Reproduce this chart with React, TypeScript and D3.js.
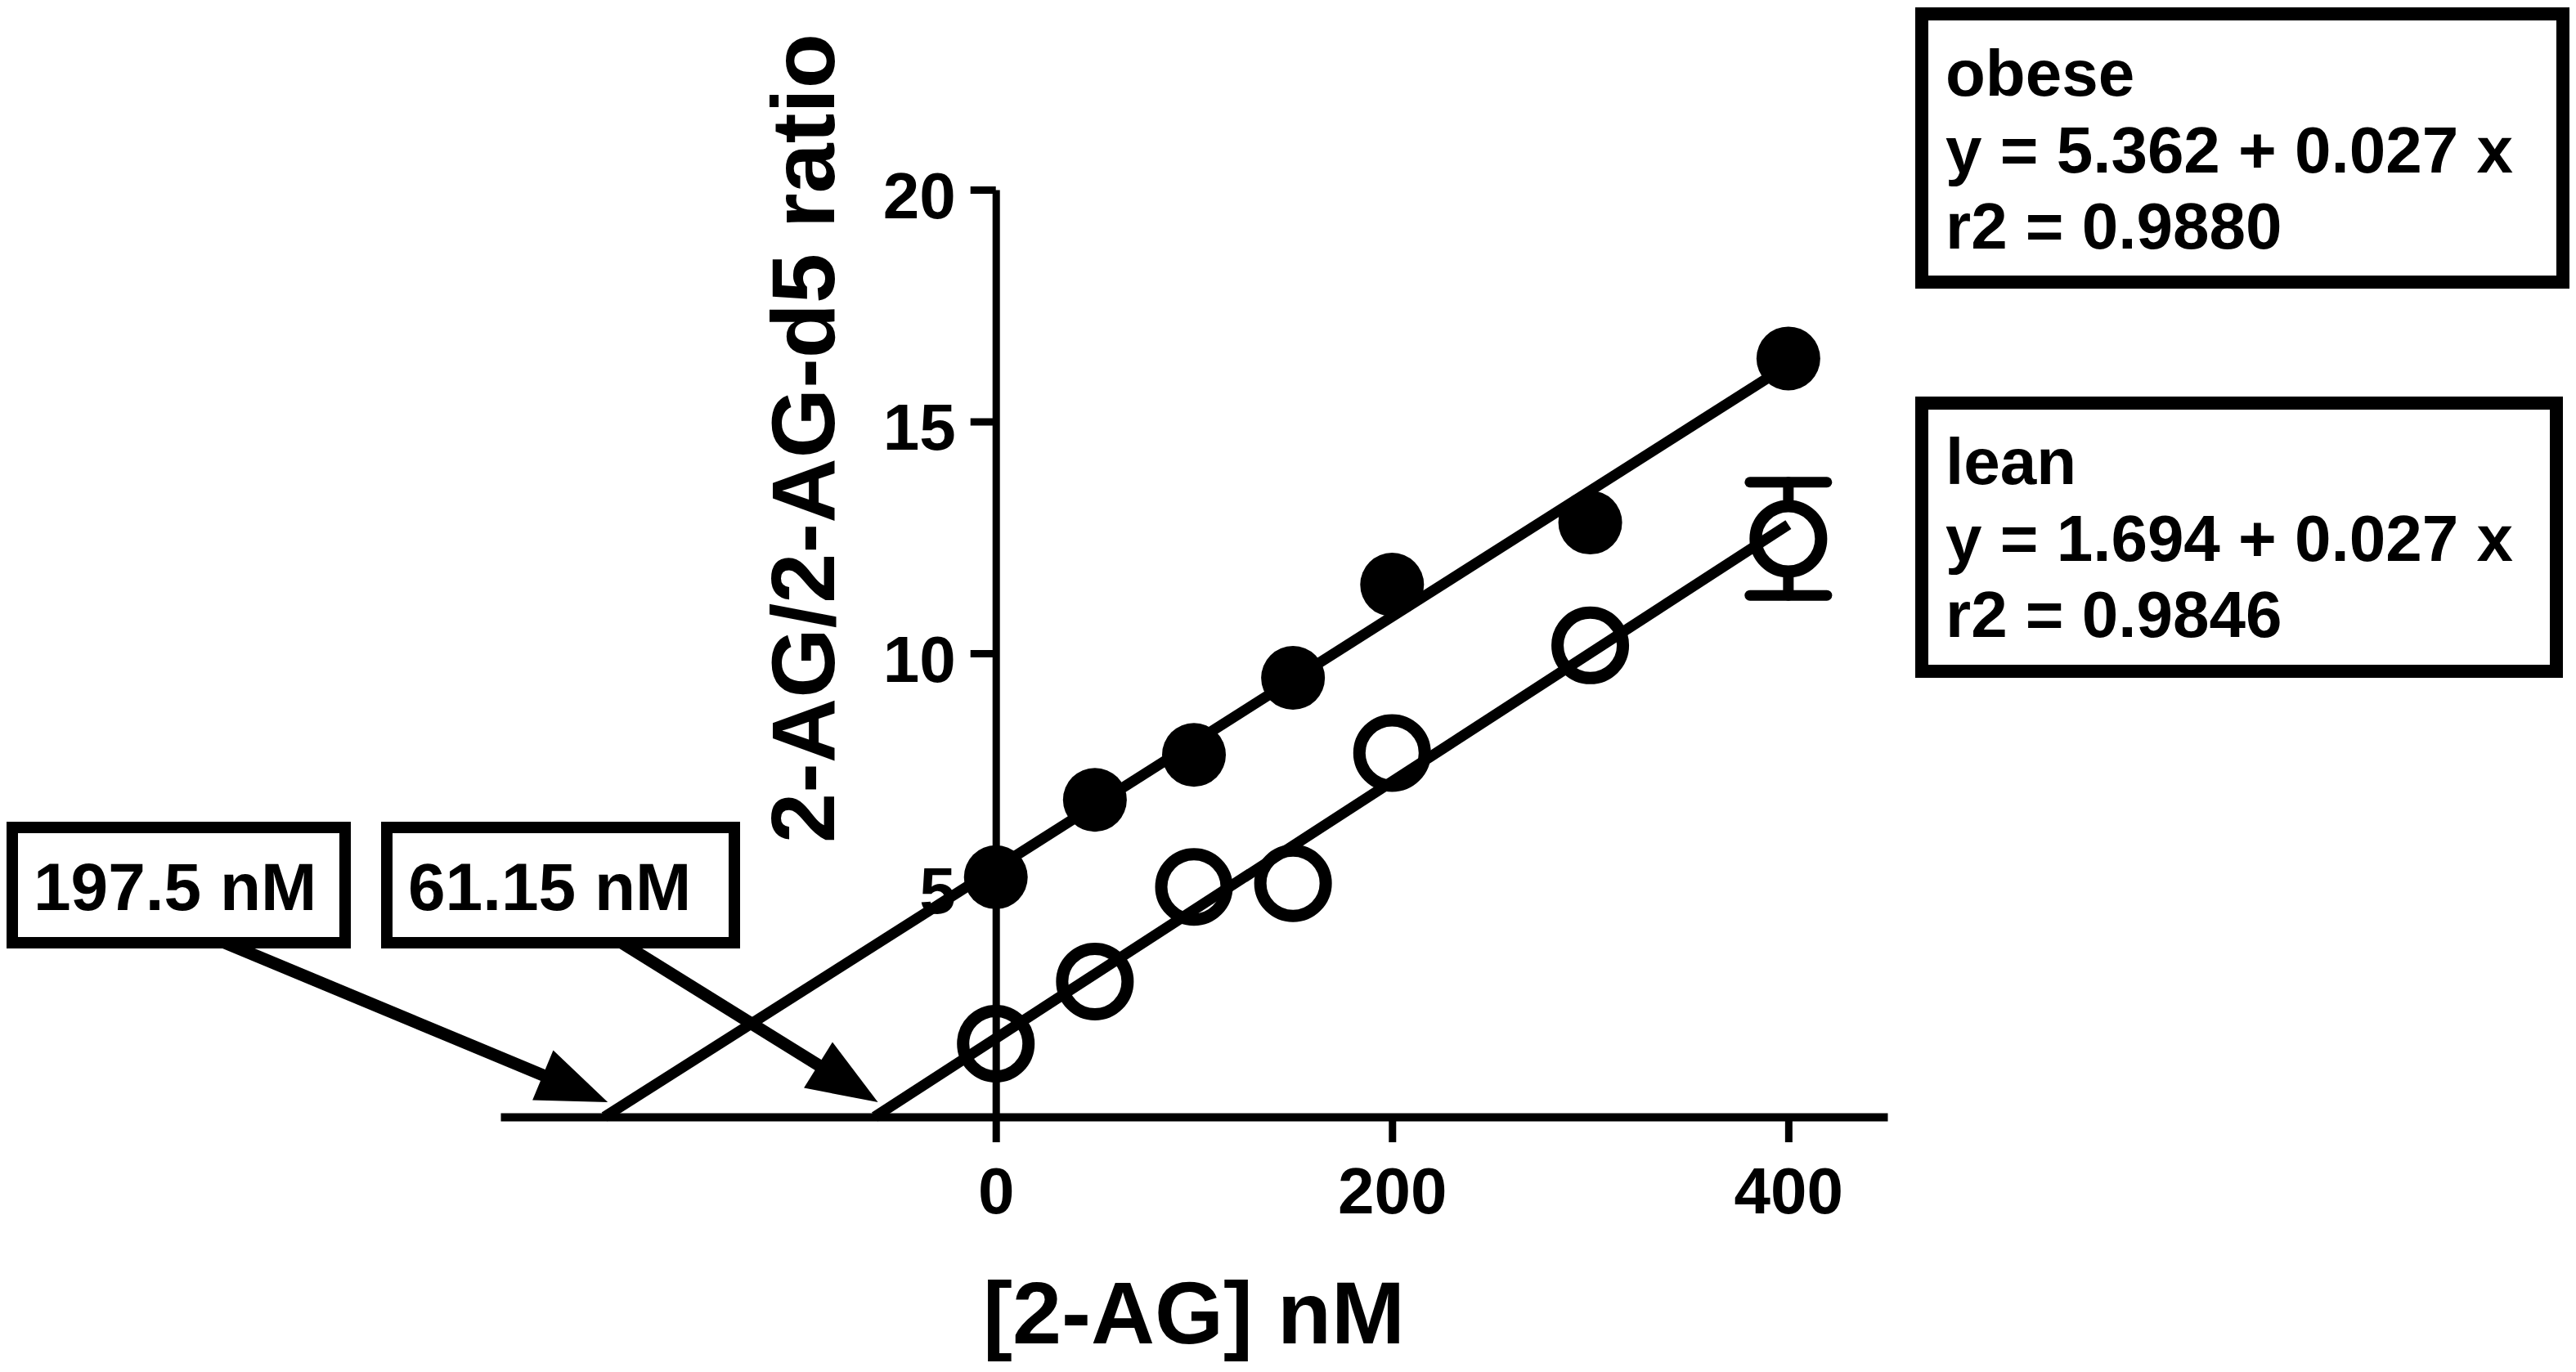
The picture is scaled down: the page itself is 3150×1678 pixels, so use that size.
import { useRef, useEffect } from "react";
import * as d3 from "d3";

// 2-AG standard addition, ratio vs spiked concentration
const doses = [0, 50, 100, 150, 200, 300, 400];
const obeseRatio = [5.17, 6.84, 7.81, 9.47, 11.48, 12.82, 16.36];
const leanRatio = [1.58, 2.92, 4.96, 5.04, 7.85, 10.17, 12.47];
const leanErr = [0, 0, 0, 0, 0, 0, 1.22];

const fitNames = ["obese", "lean"];
const fitIntercepts = [5.362, 1.694];
const fitSlopes = [0.027, 0.027];
const fitR2 = ["0.9880", "0.9846"];
const xIntercepts = [197.5, 61.15];

const xTicks = [0, 200, 400];
const yTicks = [5, 10, 15, 20];

const W = 3150;
const H = 1678;
const FONT = "'Liberation Sans', Arial, Helvetica, sans-serif";

export default function App() {
  const svgRef = useRef<SVGSVGElement>(null);

  useEffect(() => {
    if (!svgRef.current) return;
    const svg = d3.select(svgRef.current);
    svg.selectAll("*").remove();

    const x = d3.scaleLinear().domain([-250, 450]).range([612, 2308]);
    const y = d3.scaleLinear().domain([0, 20]).range([1366, 232]);

    // axis titles
    svg
      .append("text")
      .attr("transform", `translate(1020,536) rotate(-90)`)
      .attr("text-anchor", "middle")
      .style("font-family", FONT)
      .style("font-weight", "bold")
      .style("font-size", "110px")
      .text("2-AG/2-AG-d5 ratio");

    svg
      .append("text")
      .attr("x", (x(-250) + x(450)) / 2)
      .attr("y", 1643)
      .attr("text-anchor", "middle")
      .style("font-family", FONT)
      .style("font-weight", "bold")
      .style("font-size", "108px")
      .text("[2-AG] nM");

    // axes
    const xAxis = svg
      .append("g")
      .attr("transform", `translate(0,${y(0)})`)
      .call(
        d3.axisBottom(x).tickValues(xTicks).tickSize(31).tickSizeOuter(0).tickPadding(30)
      )
      .attr("font-family", FONT)
      .attr("font-weight", "bold")
      .attr("font-size", 80);
    xAxis.select(".domain").attr("stroke-width", 10).attr("stroke", "#000");
    xAxis.selectAll(".tick line").attr("stroke-width", 9).attr("stroke", "#000");
    xAxis.selectAll(".tick text").attr("fill", "#000");

    const yAxis = svg
      .append("g")
      .attr("transform", `translate(${x(0)},0)`)
      .call(
        d3.axisLeft(y).tickValues(yTicks).tickSize(31).tickSizeOuter(0).tickPadding(18)
      )
      .attr("font-family", FONT)
      .attr("font-weight", "bold")
      .attr("font-size", 80);
    yAxis.select(".domain").attr("stroke-width", 9).attr("stroke", "#000");
    yAxis.selectAll(".tick line").attr("stroke-width", 9).attr("stroke", "#000");
    yAxis.selectAll(".tick text").attr("fill", "#000").attr("dy", "0.43em");

    // x-intercept label boxes with arrows
    const labelBoxes = [
      { x: 15, w: 407, tail: 275 },
      { x: 473, w: 425, tail: 760 },
    ];
    const boxY = 1012;
    const boxH = 141;
    xIntercepts.forEach((xi, i) => {
      const b = labelBoxes[i];
      const tx = x(-xi) + 4;
      const ty = y(0) - 18;
      const sx = b.tail;
      const sy = boxY + boxH;
      const ang = Math.atan2(ty - sy, tx - sx);
      const headLen = 86;
      const half = 33;
      const bx = tx - headLen * Math.cos(ang);
      const by = ty - headLen * Math.sin(ang);
      svg
        .append("line")
        .attr("x1", sx)
        .attr("y1", sy)
        .attr("x2", bx + 5 * Math.cos(ang))
        .attr("y2", by + 5 * Math.sin(ang))
        .attr("stroke", "#000")
        .attr("stroke-width", 15);
      const px = -Math.sin(ang);
      const py = Math.cos(ang);
      svg
        .append("path")
        .attr(
          "d",
          `M${tx},${ty}L${bx + half * px},${by + half * py}L${bx - half * px},${by - half * py}Z`
        )
        .attr("fill", "#000");

      svg
        .append("rect")
        .attr("x", b.x)
        .attr("y", boxY)
        .attr("width", b.w)
        .attr("height", boxH)
        .attr("fill", "#fff")
        .attr("stroke", "#000")
        .attr("stroke-width", 14);
      svg
        .append("text")
        .attr("x", b.x + 26)
        .attr("y", 1113)
        .style("font-family", FONT)
        .style("font-weight", "bold")
        .style("font-size", "82px")
        .text(`${xi} nM`);
    });

    // regression lines
    const line = d3
      .line<[number, number]>()
      .x((d) => x(d[0]))
      .y((d) => y(d[1]));
    fitIntercepts.forEach((b0, i) => {
      const slope = b0 / xIntercepts[i];
      const last = doses[doses.length - 1];
      const pts: [number, number][] = [
        [-xIntercepts[i], 0],
        [last, b0 + slope * last],
      ];
      svg
        .append("path")
        .attr("d", line(pts))
        .attr("fill", "none")
        .attr("stroke", "#000")
        .attr("stroke-width", 13);
    });

    // error bars (lean)
    const capHalf = 47;
    const rOuter = 47;
    doses.forEach((d, i) => {
      const e = leanErr[i];
      if (!e) return;
      const cx = x(d);
      const cy = y(leanRatio[i]);
      const top = y(leanRatio[i] + e);
      const bot = y(leanRatio[i] - e);
      const g = svg
        .append("g")
        .attr("stroke", "#000")
        .attr("stroke-width", 13)
        .attr("stroke-linecap", "round");
      g.append("line").attr("x1", cx).attr("x2", cx).attr("y1", top).attr("y2", cy - rOuter);
      g.append("line").attr("x1", cx).attr("x2", cx).attr("y1", cy + rOuter).attr("y2", bot);
      g.append("line").attr("x1", cx - capHalf).attr("x2", cx + capHalf).attr("y1", top).attr("y2", top);
      g.append("line").attr("x1", cx - capHalf).attr("x2", cx + capHalf).attr("y1", bot).attr("y2", bot);
    });

    // markers
    svg
      .append("g")
      .selectAll("circle")
      .data(doses)
      .join("circle")
      .attr("cx", (d) => x(d))
      .attr("cy", (_, i) => y(obeseRatio[i]))
      .attr("r", 39)
      .attr("fill", "#000");

    svg
      .append("g")
      .selectAll("circle")
      .data(doses)
      .join("circle")
      .attr("cx", (d) => x(d))
      .attr("cy", (_, i) => y(leanRatio[i]))
      .attr("r", 40)
      .attr("fill", "none")
      .attr("stroke", "#000")
      .attr("stroke-width", 15);

    // equation boxes
    const eqBoxes = [
      { y: 17, w: 784, base: 117 },
      { y: 493, w: 776, base: 592 },
    ];
    fitNames.forEach((name, i) => {
      const b = eqBoxes[i];
      svg
        .append("rect")
        .attr("x", 2350)
        .attr("y", b.y)
        .attr("width", b.w)
        .attr("height", 328)
        .attr("fill", "#fff")
        .attr("stroke", "#000")
        .attr("stroke-width", 16);
      const lines = [
        name,
        `y = ${fitIntercepts[i].toFixed(3)} + ${fitSlopes[i].toFixed(3)} x`,
        `r2 = ${fitR2[i]}`,
      ];
      svg
        .append("g")
        .selectAll("text")
        .data(lines)
        .join("text")
        .attr("x", 2379)
        .attr("y", (_, k) => b.base + k * 93.5)
        .style("font-family", FONT)
        .style("font-weight", "bold")
        .style("font-size", "80px")
        .text((t) => t);
    });
  }, []);

  return (
    <svg
      ref={svgRef}
      width={W}
      height={H}
      viewBox={`0 0 ${W} ${H}`}
      style={{ position: "absolute", left: 0, top: 0, background: "#fff" }}
    />
  );
}
